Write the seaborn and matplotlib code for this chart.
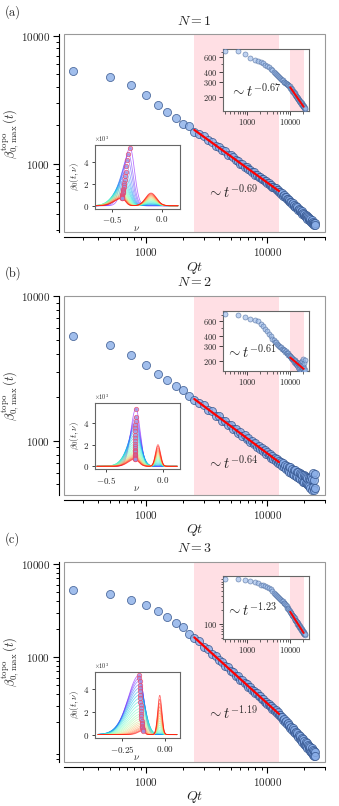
import numpy as np
import pandas as pd
import matplotlib
matplotlib.use('Agg')
import matplotlib.pyplot as plt
import seaborn as sns
from matplotlib.ticker import FixedLocator, FuncFormatter, NullFormatter, LogLocator
from matplotlib.patches import Rectangle

sns.set_theme(style='ticks')
plt.rcParams.update({
    'font.family': 'serif',
    'font.serif': ['cmr10', 'DejaVu Serif'],
    'mathtext.fontset': 'cm',
    'axes.formatter.use_mathtext': True,
    'axes.unicode_minus': False,
})

# ---------------- data ----------------
t_main = np.arange(250, 25001, 250)      # Qt sampling of main panels
t_inset = np.arange(300, 22501, 300)     # Qt sampling of upper-right insets

main_a = [5300, 4740, 4110, 3440, 2900, 2550, 2260, 2050, 1980, 1770,
          1710, 1650, 1530, 1480, 1380, 1350, 1270, 1250, 1170, 1160,
          1120, 1060, 1050, 995, 990, 945, 940, 900, 895, 855,
          860, 820, 820, 785, 790, 755, 758, 725, 730, 700,
          705, 680, 685, 655, 662, 640, 642, 620, 622, 605,
          600, 580, 585, 560, 566, 545, 548, 528, 532, 512,
          518, 498, 503, 484, 490, 470, 477, 458, 465, 447,
          455, 435, 443, 425, 432, 415, 423, 405, 413, 397,
          405, 388, 396, 380, 388, 371, 380, 364, 373, 357,
          366, 350, 359, 343, 352, 336, 346, 331, 340, 328]
main_b = [5270, 4570, 3890, 3320, 2900, 2640, 2370, 2250, 2020, 1915,
          1810, 1760, 1630, 1600, 1480, 1470, 1370, 1370, 1280, 1280,
          1200, 1210, 1130, 1145, 1075, 1090, 1020, 1040, 975, 995,
          940, 955, 900, 920, 870, 890, 840, 860, 810, 830,
          790, 810, 760, 785, 745, 760, 720, 740, 700, 725,
          690, 710, 665, 700, 655, 680, 640, 670, 625, 660,
          610, 655, 600, 640, 590, 630, 575, 625, 570, 610,
          560, 610, 550, 600, 540, 585, 530, 580, 520, 575,
          515, 570, 505, 560, 500, 555, 490, 550, 485, 545,
          470, 560, 455, 545, 600, 480, 530, 455, 590, 470]
main_c = [5300, 4750, 4130, 3650, 3150, 2670, 2320, 2100, 1770, 1600,
          1470, 1290, 1210, 1075, 1020, 920, 880, 800, 775, 705,
          690, 630, 620, 568, 560, 518, 512, 474, 470, 437,
          435, 405, 404, 377, 377, 352, 353, 330, 331, 312,
          312, 294, 296, 278, 280, 263, 266, 251, 253, 240,
          240, 225, 228, 212, 216, 201, 206, 191, 196, 182,
          187, 173, 178, 164, 171, 157, 164, 150, 157, 144,
          151, 138, 146, 132, 140, 127, 135, 122, 130, 117,
          126, 113, 122, 109, 118, 105, 114, 101, 111, 98,
          107, 95, 104, 92, 100, 89, 97, 86, 94, 85]

inset_a = [716, 713, 664, 594, 562, 547, 531, 517, 484, 471,
           455, 428, 418, 398, 390, 372, 367, 352, 348, 335,
           332, 320, 318, 305, 305, 294, 294, 284, 285, 275,
           276, 266, 268, 258, 256, 246, 245, 236, 236, 227,
           228, 219, 220, 211, 213, 204, 206, 198, 200, 192,
           194, 186, 188, 181, 183, 176, 179, 171, 174, 167,
           170, 163, 166, 159, 162, 155, 158, 152, 155, 148,
           152, 146, 149, 142, 145]
inset_b = [735, 708, 670, 641, 624, 600, 558, 523, 480, 450,
           425, 395, 370, 360, 340, 334, 318, 314, 299, 296,
           290, 279, 279, 268, 269, 258, 260, 250, 251, 247,
           236, 238, 227, 230, 219, 223, 212, 217, 205, 210,
           208, 196, 203, 190, 198, 185, 194, 180, 190, 177,
           190, 170, 188, 165, 185, 160, 182, 158, 180, 155,
           195, 152, 178, 150, 200, 148, 175, 160, 210, 150,
           165, 190, 150, 205, 158]
inset_c = [906, 900, 874, 834, 768, 746, 686, 665, 630, 600,
           575, 550, 505, 452, 436, 405, 395, 370, 360, 340,
           330, 310, 303, 286, 281, 268, 248, 242, 224, 221,
           205, 201, 187, 184, 171, 170, 158, 157, 146, 146,
           141, 132, 132, 123, 124, 115, 117, 108, 110, 102,
           104, 96, 99, 91, 94, 86, 89, 82, 85, 79,
           81, 75, 77, 71, 74, 68, 71, 65, 68, 62,
           66, 60, 63, 57, 60]

# spectra beta_0(t, nu): main peak (height, centre, left/right width) and second peak height
amp1_a = [5250, 4650, 4150, 3600, 3050, 2650, 2300, 2050, 1850, 1700, 1550, 1420,
          1300, 1200, 1110, 1030, 960, 900, 850, 800, 760, 720, 690, 660]
cen1_a = [-0.320, -0.335, -0.345, -0.355, -0.362, -0.368, -0.373, -0.377, -0.381, -0.384, -0.387, -0.389,
          -0.391, -0.393, -0.395, -0.396, -0.397, -0.398, -0.399, -0.400, -0.400, -0.401, -0.401, -0.402]
wl_a = [0.060, 0.065, 0.070, 0.075, 0.080, 0.085, 0.090, 0.092, 0.094, 0.095, 0.095, 0.095,
        0.094, 0.093, 0.092, 0.090, 0.088, 0.086, 0.084, 0.082, 0.080, 0.078, 0.076, 0.075]
wr_a = [0.045, 0.046, 0.047, 0.048, 0.049, 0.050, 0.050, 0.050, 0.050, 0.049, 0.048, 0.047,
        0.046, 0.045, 0.044, 0.043, 0.042, 0.041, 0.040, 0.039, 0.038, 0.037, 0.036, 0.035]
amp2_a = [0, 0, 0, 30, 60, 100, 150, 200, 260, 320, 380, 440,
          500, 560, 620, 680, 740, 800, 860, 920, 980, 1040, 1100, 1150]

amp1_b = [5320, 4600, 4150, 3850, 3530, 3220, 2900, 2600, 2300, 2050, 1850, 1680,
          1530, 1400, 1280, 1180, 1090, 1010, 940, 870, 810, 750, 700, 650]
cen1_b = [-0.235, -0.236, -0.237, -0.238, -0.239, -0.240, -0.240, -0.241, -0.241, -0.242, -0.242, -0.243,
          -0.243, -0.243, -0.244, -0.244, -0.244, -0.245, -0.245, -0.245, -0.245, -0.246, -0.246, -0.246]
wl_b = [0.045, 0.050, 0.055, 0.060, 0.064, 0.068, 0.072, 0.075, 0.078, 0.080, 0.080, 0.080,
        0.078, 0.076, 0.074, 0.072, 0.070, 0.068, 0.066, 0.064, 0.062, 0.060, 0.058, 0.056]
wr_b = [0.038, 0.040, 0.042, 0.044, 0.046, 0.048, 0.049, 0.050, 0.050, 0.050, 0.049, 0.048,
        0.047, 0.046, 0.045, 0.044, 0.043, 0.042, 0.041, 0.040, 0.039, 0.038, 0.037, 0.036]
amp2_b = [0, 0, 0, 0, 50, 100, 180, 260, 350, 450, 550, 650,
          750, 850, 950, 1050, 1150, 1250, 1350, 1450, 1550, 1700, 1850, 2000]

amp1_c = [5220, 4950, 4700, 4400, 4100, 3800, 3500, 3200, 2900, 2600, 2300, 2050,
          1800, 1600, 1400, 1200, 1050, 900, 760, 640, 540, 450, 380, 330]
cen1_c = [-0.150, -0.149, -0.148, -0.147, -0.146, -0.145, -0.144, -0.143, -0.142, -0.141, -0.140, -0.139,
          -0.138, -0.137, -0.136, -0.135, -0.134, -0.133, -0.132, -0.131, -0.130, -0.129, -0.128, -0.128]
wl_c = [0.065, 0.068, 0.070, 0.072, 0.074, 0.075, 0.076, 0.076, 0.076, 0.075, 0.074, 0.072,
        0.070, 0.067, 0.064, 0.060, 0.056, 0.052, 0.048, 0.044, 0.040, 0.036, 0.032, 0.028]
wr_c = [0.026, 0.027, 0.028, 0.029, 0.030, 0.031, 0.032, 0.032, 0.032, 0.032, 0.031, 0.030,
        0.029, 0.028, 0.026, 0.024, 0.022, 0.020, 0.018, 0.016, 0.014, 0.012, 0.011, 0.010]
amp2_c = [0, 0, 0, 0, 0, 20, 50, 100, 170, 260, 370, 500,
          650, 820, 1000, 1200, 1420, 1650, 1900, 2150, 2450, 2750, 3100, 3450]

titles = [r'$N=1$', r'$N=2$', r'$N=3$']
letters = ['(a)', '(b)', '(c)']
exp_main = ['-0.69', '-0.64', '-1.19']
exp_inset = ['-0.67', '-0.61', '-1.23']

# ---------------- layout ----------------
W, H = 339, 806


def rect(l, t, w, h):
    return [l / W, 1 - (t + h) / H, w / W, h / H]


panels = [
    dict(main=main_a, ins=inset_a, spec=(amp1_a, cen1_a, wl_a, wr_a, amp2_a), c2=-0.11, s2=0.055,
         top=34.3, h=198, ylim=(290, 10300), itop=49, ih=62, iylim=(134, 757),
         imaj=[200, 300, 400, 600], imin=[500, 700], ctop=145, ch=63.5,
         nurange=(-0.66, 0.16), cxlim=(-0.675, 0.175), cylim=(-250, 5500), cxt=[-0.5, 0.0],
         cxl=[r'$-0.5$', r'$0.0$'], txt=(0.548, 0.204), itxt=(0.08, 0.33), lety=12),
    dict(main=main_b, ins=inset_b, spec=(amp1_b, cen1_b, wl_b, wr_b, amp2_b), c2=-0.04, s2=0.022,
         top=296, h=199, ylim=(420, 10000), itop=311, ih=60, iylim=(152, 790),
         imaj=[200, 300, 400, 600], imin=[500, 700], ctop=403, ch=66,
         nurange=(-0.58, 0.13), cxlim=(-0.60, 0.15), cylim=(-250, 5850), cxt=[-0.5, 0.0],
         cxl=[r'$-0.5$', r'$0.0$'], txt=(0.548, 0.162), itxt=(0.04, 0.32), lety=273),
    dict(main=main_c, ins=inset_c, spec=(amp1_c, cen1_c, wl_c, wr_c, amp2_c), c2=-0.03, s2=0.012,
         top=562, h=200, ylim=(74, 10500), itop=576, ih=63, iylim=(48, 1050),
         imaj=[100], imin=None, ctop=672, ch=66,
         nurange=(-0.39, 0.07), cxlim=(-0.41, 0.085), cylim=(-300, 5500), cxt=[-0.25, 0.0],
         cxl=[r'$-0.25$', r'$0.00$'], txt=(0.548, 0.247), itxt=(0.04, 0.46), lety=539),
]

face = '#8aaee8'
edge = '#2e4f88'
intfmt = FuncFormatter(lambda v, p: r'$%d$' % int(round(v)))


def log_axis(axis, majors, minors=None):
    axis.set_major_locator(FixedLocator(majors))
    axis.set_major_formatter(intfmt)
    if minors is None:
        axis.set_minor_locator(LogLocator(base=10, subs=np.arange(2, 10), numticks=60))
    else:
        axis.set_minor_locator(FixedLocator(minors))
    axis.set_minor_formatter(NullFormatter())


fig = plt.figure(figsize=(W / 100, H / 100), dpi=100)

for i, P in enumerate(panels):
    # ---------- main panel ----------
    ax = fig.add_axes(rect(64, P['top'], 261, P['h']))
    ax.set_xscale('log')
    ax.set_yscale('log')
    ax.axvspan(2500, 12500, color='pink', alpha=0.5, lw=0, zorder=0)
    dfm = pd.DataFrame({'t': t_main, 'beta': P['main']})
    sns.scatterplot(data=dfm, x='t', y='beta', ax=ax, s=34, color=face, edgecolor=edge,
                    linewidth=0.6, alpha=0.8, zorder=3, legend=False)
    yv = np.array(P['main'], dtype=float)
    m = (t_main >= 2500) & (t_main <= 12500)
    coef = np.polyfit(np.log10(t_main[m]), np.log10(yv[m]), 1)
    ax.plot(t_main[m], 10 ** np.polyval(coef, np.log10(t_main[m])), color='red', lw=1.6, zorder=4)
    ax.set_xlim(210, 30000)
    ax.set_ylim(*P['ylim'])
    log_axis(ax.xaxis, [1000, 10000])
    log_axis(ax.yaxis, [1000, 10000])
    ax.tick_params(which='major', length=4.5, width=0.8, labelsize=8, color='black', pad=2)
    ax.tick_params(which='minor', length=2.5, width=0.7, color='black')
    for s in ['top', 'right']:
        ax.spines[s].set_visible(False)
    for s in ['left', 'bottom']:
        ax.spines[s].set_position(('outward', 3.5))
        ax.spines[s].set_color('black')
        ax.spines[s].set_linewidth(0.8)
    ax.add_patch(Rectangle((0, 0), 1, 1, transform=ax.transAxes, fill=False, ec='0.6', lw=0.8,
                           clip_on=False, zorder=6))
    ax.set_xlabel(r'$Qt$', fontsize=10, labelpad=1)
    ax.set_ylabel(r'$\beta^{\mathrm{topo}}_{0,\,\mathrm{max}}\,(t)$', fontsize=9, labelpad=0)
    ax.set_title(titles[i], fontsize=10, pad=7)
    ax.text(P['txt'][0], P['txt'][1], r'$\sim t^{%s}$' % exp_main[i], transform=ax.transAxes,
            fontsize=10.5, ha='left', va='center', zorder=7)
    fig.text(5 / W, 1 - P['lety'] / H, letters[i], fontsize=9, ha='left', va='center')

    # ---------- upper-right inset ----------
    axi = fig.add_axes(rect(223, P['itop'], 86, P['ih']))
    axi.set_facecolor('white')
    axi.set_xscale('log')
    axi.set_yscale('log')
    axi.axvspan(10000, 21000, color='pink', alpha=0.5, lw=0, zorder=0)
    dfi = pd.DataFrame({'t': t_inset, 'beta': P['ins']})
    sns.scatterplot(data=dfi, x='t', y='beta', ax=axi, s=13, color='#9dbbe8', edgecolor='#3d5e94',
                    linewidth=0.5, alpha=0.65, zorder=3, legend=False)
    yi = np.array(P['ins'], dtype=float)
    mi = (t_inset >= 10000) & (t_inset <= 21000)
    ci = np.polyfit(np.log10(t_inset[mi]), np.log10(yi[mi]), 1)
    axi.plot(t_inset[mi], 10 ** np.polyval(ci, np.log10(t_inset[mi])), color='red', lw=1.4, zorder=4)
    axi.set_xlim(275, 28000)
    axi.set_ylim(*P['iylim'])
    log_axis(axi.xaxis, [1000, 10000])
    log_axis(axi.yaxis, P['imaj'], P['imin'])
    axi.tick_params(which='major', length=3, width=0.6, labelsize=6, pad=1.5)
    axi.tick_params(which='minor', length=1.8, width=0.5)
    for s in axi.spines.values():
        s.set_color('0.4')
        s.set_linewidth(0.8)
    axi.set_xlabel('')
    axi.set_ylabel('')
    axi.text(P['itxt'][0], P['itxt'][1], r'$\sim t^{%s}$' % exp_inset[i], transform=axi.transAxes,
             fontsize=10.5, ha='left', va='center', zorder=7)

    # ---------- lower-left inset: spectra ----------
    axc = fig.add_axes(rect(94.5, P['ctop'], 85, P['ch']))
    axc.set_facecolor('white')
    nu = np.linspace(P['nurange'][0], P['nurange'][1], 400)
    a1, c1, wl, wr, a2 = P['spec']
    frames = []
    pk_nu, pk_b = [], []
    for j in range(len(a1)):
        w = np.where(nu < c1[j], wl[j], wr[j])
        b = a1[j] * np.exp(-0.5 * ((nu - c1[j]) / w) ** 2) + a2[j] * np.exp(-0.5 * ((nu - P['c2']) / P['s2']) ** 2)
        frames.append(pd.DataFrame({'nu': nu, 'beta': b, 'curve': j}))
        sel = nu < (c1[j] + P['c2']) / 2
        k = np.argmax(b[sel])
        pk_nu.append(nu[sel][k])
        pk_b.append(b[sel][k])
    dfc = pd.concat(frames, ignore_index=True)
    sns.lineplot(data=dfc, x='nu', y='beta', hue='curve', palette='rainbow', legend=False,
                 lw=0.6, alpha=0.55, ax=axc, estimator=None)
    sns.scatterplot(x=pk_nu, y=pk_b, ax=axc, s=10, color='#9c90e0', edgecolor='#ee4466',
                    linewidth=0.6, alpha=0.75, zorder=5, legend=False)
    axc.set_xlim(*P['cxlim'])
    axc.set_ylim(*P['cylim'])
    axc.xaxis.set_major_locator(FixedLocator(P['cxt']))
    axc.xaxis.set_major_formatter(FuncFormatter(lambda v, p, L=P['cxl'], T=P['cxt']: L[int(np.argmin(np.abs(np.array(T) - v)))]))
    axc.yaxis.set_major_locator(FixedLocator([0, 2000, 4000]))
    axc.yaxis.set_major_formatter(FuncFormatter(lambda v, p: r'$%d$' % int(round(v / 1000))))
    axc.tick_params(which='major', length=2.5, width=0.6, labelsize=6.5, pad=1.5)
    for s in axc.spines.values():
        s.set_color('0.4')
        s.set_linewidth(0.8)
    axc.set_xlabel(r'$\nu$', fontsize=7, labelpad=-1)
    axc.set_ylabel(r'$\beta_0(t,\nu)$', fontsize=6.5, labelpad=1)
    axc.text(0.0, 1.01, r'$\times10^3$', transform=axc.transAxes, fontsize=4.5, ha='left', va='bottom')

fig.savefig('out.png', dpi=100)
